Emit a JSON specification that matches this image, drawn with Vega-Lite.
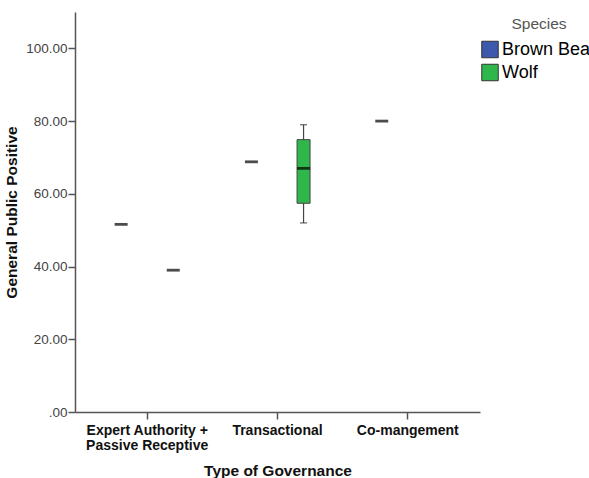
{
  "$schema": "https://vega.github.io/schema/vega-lite/v6.json",
  "autosize": "none",
  "width": 405,
  "height": 400,
  "padding": {"left": 75, "top": 12, "right": 109, "bottom": 66},
  "background": "white",
  "config": {
    "view": {"stroke": null},
    "font": "Liberation Sans",
    "axis": {"grid": false, "domainColor": "#555555", "domainWidth": 1.5, "tickColor": "#555555", "tickWidth": 1.5}
  },
  "data": {
    "values": [
      {"gov": "Expert Authority + Passive Receptive", "species": "Brown Bear", "min": 51.6, "q1": 51.6, "median": 51.6, "q3": 51.6, "max": 51.6},
      {"gov": "Expert Authority + Passive Receptive", "species": "Wolf", "min": 39.0, "q1": 39.0, "median": 39.0, "q3": 39.0, "max": 39.0},
      {"gov": "Transactional", "species": "Brown Bear", "min": 68.8, "q1": 68.8, "median": 68.8, "q3": 68.8, "max": 68.8},
      {"gov": "Transactional", "species": "Wolf", "min": 52.0, "q1": 57.4, "median": 67.0, "q3": 74.9, "max": 79.0},
      {"gov": "Co-mangement", "species": "Brown Bear", "min": 80.0, "q1": 80.0, "median": 80.0, "q3": 80.0, "max": 80.0}
    ]
  },
  "encoding": {
    "x": {
      "field": "gov", "type": "nominal",
      "sort": ["Expert Authority + Passive Receptive", "Transactional", "Co-mangement"],
      "scale": {"paddingInner": 0, "paddingOuter": 0.054},
      "axis": {
        "title": "Type of Governance", "labelAngle": 0, "labelFontWeight": "bold", "labelFontSize": 14,
        "labelColor": "#111111", "tickSize": 7, "labelPadding": 4, "labelLimit": 200, "labelLineHeight": 15,
        "labelExpr": "datum.value == 'Expert Authority + Passive Receptive' ? ['Expert Authority +', 'Passive Receptive'] : datum.value",
        "titleFontSize": 15.5, "titleFontWeight": "bold", "titleColor": "#111111", "titlePadding": 11
      }
    },
    "xOffset": {
      "field": "species", "type": "nominal",
      "scale": {"domain": ["Brown Bear", "Wolf"], "paddingInner": 0, "paddingOuter": 0.25}
    }
  },
  "layer": [
    {
      "transform": [{"filter": "datum.max > datum.min"}],
      "mark": {"type": "rule", "color": "#444444", "strokeWidth": 1.2},
      "encoding": {
        "y": {"field": "min", "type": "quantitative"},
        "y2": {"field": "max"}
      }
    },
    {
      "transform": [{"filter": "datum.max > datum.min"}],
      "mark": {"type": "tick", "color": "#333333", "size": 7, "thickness": 1.3},
      "encoding": {"y": {"field": "min", "type": "quantitative"}}
    },
    {
      "transform": [{"filter": "datum.max > datum.min"}],
      "mark": {"type": "tick", "color": "#333333", "size": 7, "thickness": 1.3},
      "encoding": {"y": {"field": "max", "type": "quantitative"}}
    },
    {
      "transform": [{"filter": "datum.q3 > datum.q1"}],
      "mark": {"type": "bar", "width": 13, "stroke": "#444444", "strokeWidth": 1},
      "encoding": {
        "y": {"field": "q1", "type": "quantitative"},
        "y2": {"field": "q3"},
        "color": {
          "field": "species", "type": "nominal",
          "scale": {"domain": ["Brown Bear", "Wolf"], "range": ["#3d59ab", "#30b74b"]},
          "legend": {
            "title": "Species", "orient": "none", "legendX": 406, "legendY": 5,
            "titleFontWeight": "normal", "titleFontSize": 15.5, "titleColor": "#555555", "titleAnchor": "middle", "titlePadding": 8,
            "labelFontSize": 18, "labelColor": "#000000", "labelLimit": 300, "labelOffset": 3,
            "symbolType": "square", "symbolSize": 272, "symbolStrokeColor": "#333333", "symbolStrokeWidth": 1, "symbolOpacity": 1,
            "rowPadding": 1
          }
        }
      }
    },
    {
      "mark": {"type": "tick", "color": "#000000", "size": 13, "thickness": 2.8},
      "encoding": {
        "y": {
          "field": "median", "type": "quantitative",
          "scale": {"domain": [0, 110], "nice": false},
          "axis": {
            "title": "General Public Positive", "values": [0, 20, 40, 60, 80, 100],
            "labelExpr": "datum.value == 0 ? '.00' : format(datum.value, '.2f')",
            "labelFontSize": 13.5, "labelColor": "#444444", "tickSize": 7, "labelPadding": 1,
            "titleFontSize": 15.5, "titleFontWeight": "bold", "titleColor": "#111111", "titlePadding": 6
          }
        }
      }
    }
  ]
}
